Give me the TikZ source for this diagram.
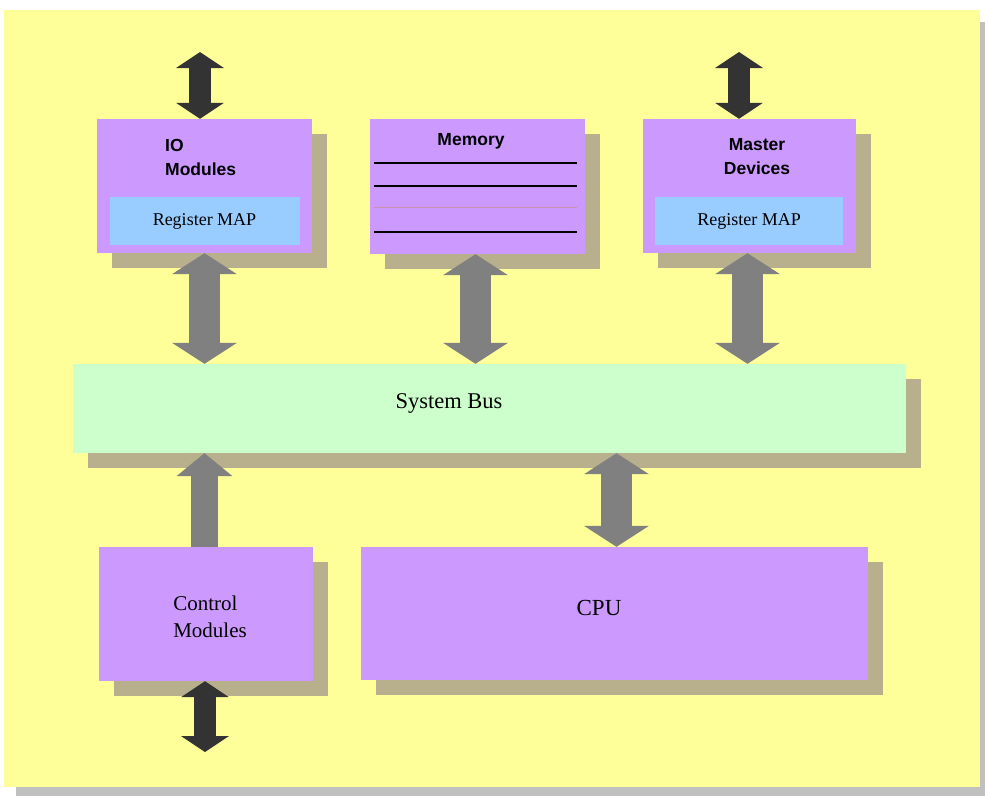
\documentclass[tikz,border=0pt]{standalone}
\usepackage{fontspec}
\setmainfont{Liberation Serif}
\newfontfamily\hdsans{Liberation Sans}
\usepackage{tikz}
\usetikzlibrary{arrows.meta,positioning,shadows}
\definecolor{PPage}{HTML}{FFFF99}
\definecolor{PEdge}{HTML}{C0C0C0}
\definecolor{PViolet}{HTML}{CC99FF}
\definecolor{PSky}{HTML}{99CCFF}
\definecolor{PMint}{HTML}{CCFFCC}
\definecolor{PTan}{HTML}{B8B08C}
\definecolor{PDark}{HTML}{333333}
\definecolor{PGray}{HTML}{808080}
\definecolor{PRose}{HTML}{C890B0}

\begin{document}
\begin{tikzpicture}[x=1pt,y=-1pt,
  blk/.style={fill=PViolet,inner sep=0pt,
    drop shadow={shadow xshift=15pt,shadow yshift=-15pt,fill=PTan,opacity=1}},
  regmap/.style={fill=PSky,inner sep=0pt,minimum width=190pt,minimum height=48pt,
    font=\fontsize{18}{20}\selectfont},
  hd/.style={inner sep=0pt,font=\hdsans\bfseries\fontsize{17.5}{24}\selectfont},
  rm/.style={inner sep=0pt,font=\fontsize{21}{27}\selectfont},
  outarr/.style={{Triangle[width=48pt,length=16pt,line width=0pt]}-{Triangle[width=48pt,length=16pt,line width=0pt]},
    line width=22pt,color=PDark},
  busarr/.style={{Triangle[width=65pt,length=21pt,line width=0pt]}-{Triangle[width=65pt,length=21pt,line width=0pt]},
    line width=31pt,color=PGray},
  uparr/.style={busarr,-{Triangle[width=56pt,length=23pt,line width=0pt]},line width=27pt}
]
  \useasboundingbox (0,0) rectangle (985,796);
  % page with its grey edge
  \fill[PEdge] (16,22) rectangle (985,796);
  \fill[PPage] (4,10) rectangle (980,787);

  % upper row
  \node[blk,minimum width=215pt,minimum height=134pt] (io) at (204.5,186) {};
  \node[regmap] (iomap) at (204.5,221) {Register MAP};
  \node[hd,align=left,anchor=west] (iotxt) at (165,157) {IO\\Modules};

  \node[blk,minimum width=215pt,minimum height=135pt] (mem) at (477.5,186.5) {};
  \node[hd] (memtxt) at (471,141) {Memory};
  \foreach \dy/\lw/\col in {44/1.8/black,67/1.8/black,89/1.1/PRose,113/1.8/black}
    \draw[line width=\lw pt,color=\col]
      ([xshift=4pt,yshift=-\dy pt]mem.north west) -- ([xshift=-8pt,yshift=-\dy pt]mem.north east);

  \node[blk,minimum width=213pt,minimum height=134pt] (master) at (749.5,186) {};
  \node[regmap,minimum width=188pt] (mastermap) at (749,221) {Register MAP};
  \node[hd,align=center] (mastertxt) at (757,157) {Master\\Devices};

  % bus
  \node[blk,fill=PMint,minimum width=833pt,minimum height=89pt] (bus) at (489.5,408.5) {};
  \node[rm,font=\fontsize{22.5}{24}\selectfont] (bustxt) at (449,403) {System Bus};

  % lower row
  \node[blk,minimum width=214pt,minimum height=134pt] (ctrl) at (206,614) {};
  \node[rm,align=left] (ctrltxt) at (210,617) {Control\\Modules};
  \node[blk,minimum width=507pt,minimum height=133pt] (cpu) at (614.5,613.5) {};
  \node[rm,font=\fontsize{23}{24}\selectfont] (cputxt) at (599,608) {CPU};

  % links to the outside
  \coordinate (ioext) at (200,52);
  \coordinate (masterext) at (739,52);
  \coordinate (ctrlext) at (205,752);
  \draw[outarr] (ioext) -- (ioext |- io.north);
  \draw[outarr] (masterext) -- (masterext |- master.north);
  \draw[outarr] (ctrlext |- ctrl.south) -- (ctrlext);

  % links to the bus
  \draw[busarr] (io.south) -- (io.south |- bus.north);
  \draw[busarr] ([xshift=-2pt]mem.south) -- ([xshift=-2pt]mem.south |- bus.north);
  \draw[busarr] ([xshift=-2pt]master.south) -- ([xshift=-2pt]master.south |- bus.north);
  \draw[uparr] (ctrl.north -| io.south) -- (io.south |- bus.south);
  \draw[busarr] ([xshift=2pt]cpu.north) -- ([xshift=2pt]cpu.north |- bus.south);
\end{tikzpicture}
\end{document}
